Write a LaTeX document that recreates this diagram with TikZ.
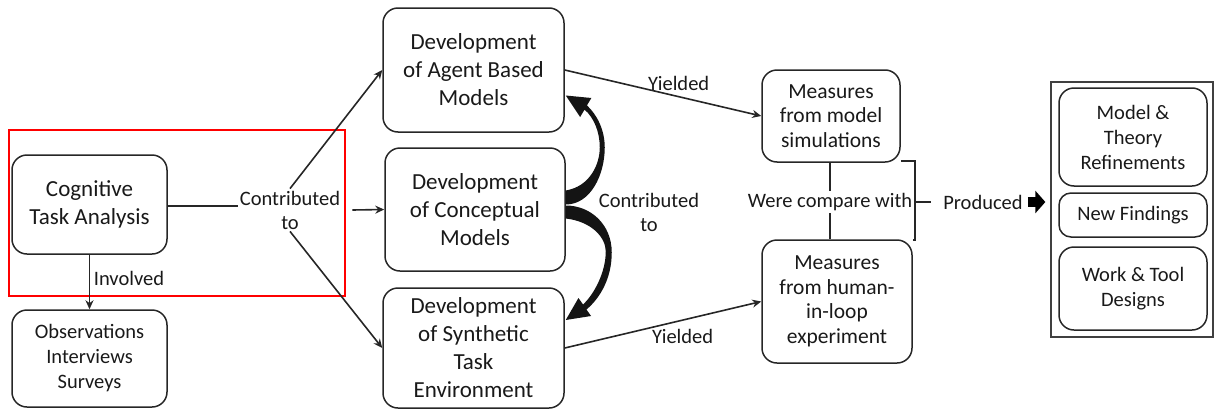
\documentclass[tikz,border=0pt]{standalone}
\usepackage{fontspec}
\setmainfont{Carlito}
\usetikzlibrary{arrows.meta,calc}
\begin{document}
\begin{tikzpicture}[x=1pt,y=-1pt,
  box/.style={draw=black!85, line width=1.5pt, rounded corners=15pt, align=center, inner sep=0pt, text=black!90},
  lbl/.style={align=center, inner sep=2pt, text=black!90},
  conn/.style={draw=black!85, line width=1.6pt},
  arr/.style={conn, -{Stealth[length=9pt,width=8pt]}},
  fA/.style={font=\fontsize{23}{28}\selectfont},
  fB/.style={font=\fontsize{23}{28}\selectfont},
  fC/.style={font=\fontsize{21.5}{24.5}\selectfont},
  fD/.style={font=\fontsize{20.5}{25}\selectfont},
  fL/.style={font=\fontsize{20.5}{24}\selectfont}]
\useasboundingbox (0,0) rectangle (1214,410);
% red highlight frame
\draw[red, line width=2pt] (9,130) rectangle (345,296);
% left
\node[box,fB,minimum width=155pt,minimum height=99pt] (cta) at (89.5,204.5) {Cognitive\\Task Analysis};
\node[box,fD,minimum width=155pt,minimum height=97pt] (obs) at (89.5,358.5) {Observations\\Interviews\\Surveys};
% middle
\node[box,fA,minimum width=181pt,minimum height=124pt] (ab) at (473.5,70) {Development\\of Agent Based\\Models};
\node[box,fA,minimum width=180pt,minimum height=123pt] (cm) at (475,209.5) {Development\\of Conceptual\\Models};
\node[box,fA,minimum width=181pt,minimum height=120pt] (se) at (473.5,348) {Development\\of Synthetic\\Task\\Environment};
% measures
\node[box,fC,minimum width=138pt,minimum height=92pt] (ms) at (831,116) {Measures\\from model\\simulations};
\node[box,fC,minimum width=150pt,minimum height=123pt] (mh) at (837,301.5) {Measures\\from human-\\in-loop\\experiment};
% outcomes
\node[draw=black!75, line width=1.3pt, minimum width=162pt, minimum height=255pt, inner sep=0pt] (out) at (1132,209.5) {};
\node[box,fD,minimum width=148pt,minimum height=98pt] (mt) at (1133,137) {Model \&\\Theory\\Refinements};
\node[box,fD,minimum width=148pt,minimum height=44pt,rounded corners=12pt] (nf) at (1133,215) {New Findings};
\node[box,fD,minimum width=148pt,minimum height=83pt] (wt) at (1133,288.5) {Work \& Tool\\Designs};
% labels
\node[lbl,fL] (inv) at (129,278) {Involved};
\node[lbl,fL] (ct1) at (290,210) {Contributed\\to};
\node[lbl,fL] (ct2) at (649,212) {Contributed\\to};
\node[lbl,fL] (wc) at (830,202) {Were compare with};
\node[lbl,fL] (pr) at (983,202) {Produced};
\coordinate (bk) at (915,202);
% connectors
\draw[arr] (cta.south) -- (obs.north);
\draw[conn] (cta.east |- 0,206) -- (ct1.west |- 0,206);
\draw[arr] (ct1.north) -- (ab.west);
\draw[arr] ([xshift=10pt]ct1.east) -- (cm.west);
\draw[arr] (ct1.south) -- (se.west);
% fat curved arrows from the conceptual models box
\begin{scope}[shift={(cm.east)}]
  \fill[black!92] (0,-19) .. controls (24,-23) and (34,-45) .. (34,-62)
     .. controls (34,-78) and (28,-92) .. (18.8,-99.9) -- (14.4,-92.5) -- (0,-114)
     -- (25.6,-111.5) -- (21.2,-104.1) .. controls (31,-95) and (39,-80) .. (39,-62)
     .. controls (39,-35) and (25,-5) .. (0,-5) -- cycle;
  \fill[black!92] (0,9) .. controls (26,12) and (40,28) .. (40,42)
     .. controls (40,62) and (29,84) .. (17.3,95.0) -- (12.7,88.5) -- (0,110.5)
     -- (25.3,106.5) -- (20.7,100.0) .. controls (35,88) and (46,68) .. (46,43)
     .. controls (46,15) and (25,-4) .. (0,-4) -- cycle;
\end{scope}
\draw[arr] (ab.east) -- node[lbl,fL,pos=0.58,above=3pt] {Yielded} (ms.west);
\draw[arr] (se.east) -- node[lbl,fL,pos=0.6,below=6pt] {Yielded} (mh.west);
\draw[conn] (ms.south -| wc.north) -- (wc.north);
\draw[conn] (wc.south) -- (wc.south |- mh.north);
\draw[conn] ([yshift=2pt]ms.south east) -| (bk) |- ([yshift=-1pt]mh.north east);
\draw[conn] (bk) -- ([xshift=-10pt]pr.west);
\draw[draw=black, line width=10pt, -{Triangle[length=10pt,width=22pt]}] ([xshift=3pt]pr.east) -- ([xshift=-5pt]pr.east -| out.west);
\end{tikzpicture}
\end{document}
